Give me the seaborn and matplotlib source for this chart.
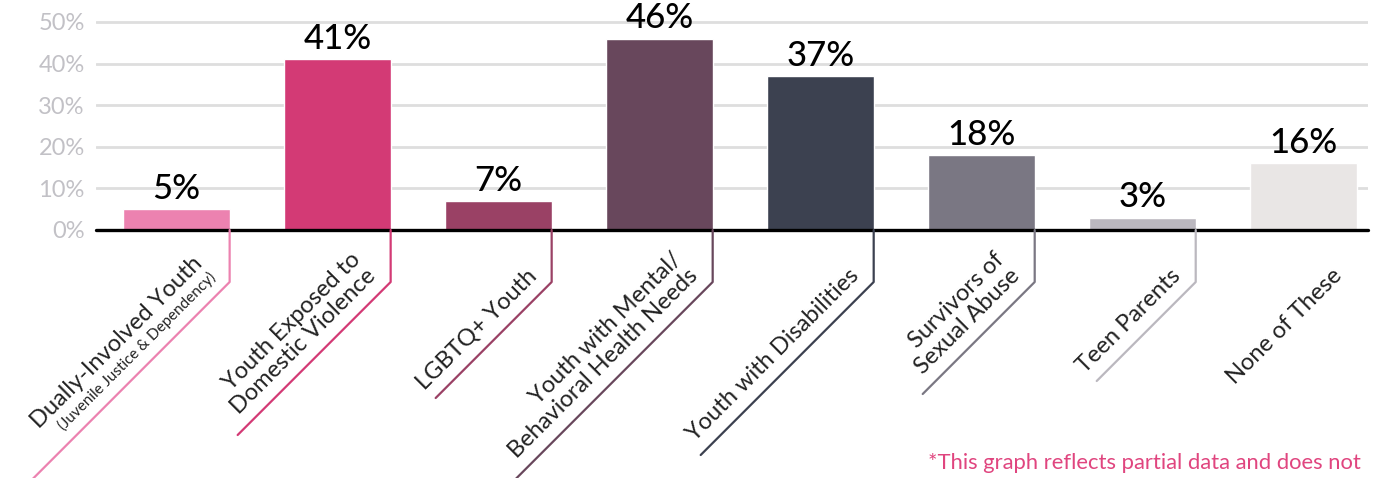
import numpy as np
import pandas as pd
import matplotlib
matplotlib.use('Agg')
import matplotlib.pyplot as plt
import seaborn as sns
from matplotlib.lines import Line2D

# chart data
categories = ['Dually-Involved Youth', 'Youth Exposed to Domestic Violence', 'LGBTQ+ Youth',
              'Youth with Mental/Behavioral Health Needs', 'Youth with Disabilities',
              'Survivors of Sexual Abuse', 'Teen Parents', 'None of These']
label_text = ['Dually-Involved Youth', 'Youth Exposed to\nDomestic Violence', 'LGBTQ+ Youth',
              'Youth with Mental/\nBehavioral Health Needs', 'Youth with Disabilities',
              'Survivors of\nSexual Abuse', 'Teen Parents', 'None of These']
sub_label = '(Juvenile Justice & Dependency)'
values = [5, 41, 7, 46, 37, 18, 3, 16]
yticks = [0, 10, 20, 30, 40, 50]
colors = ['#EC82B0', '#D33A75', '#9A4165', '#68475C', '#3C4150', '#7A7783', '#BBB8BF', '#E9E6E5']
footnote = '*This graph reflects partial data and does not'

# leader line lengths in pixels (diagonal part)
diag_len = [210, 153, 116, 199, 173, 112, 99, 0]

data = pd.DataFrame({'category': categories, 'value': values})

sns.set_style('white')
plt.rcParams['font.family'] = ['Lato', 'DejaVu Sans']

W, H = 1387, 478
fig = plt.figure(figsize=(W / 100, H / 100), dpi=100)
ax = fig.add_axes([96 / W, (H - 230) / H, (1368 - 96) / W, (230 - 19.9) / H])

sns.barplot(data=data, x='category', y='value', hue='category', palette=colors,
            legend=False, width=0.66, ax=ax, saturation=1, zorder=2)

ax.set_xlim(-0.5, 7.4)
ax.set_ylim(0, 50.5)
ax.set_yticks(yticks)
ax.set_yticklabels([f'{t}%' for t in yticks], fontsize=17, color='#C2C1C6')
ax.tick_params(axis='y', length=0, pad=8)
ax.set_xticks([])
ax.set_xlabel('')
ax.set_ylabel('')
ax.grid(axis='y', color='#DEDEDE', linewidth=2, zorder=0)
ax.set_axisbelow(True)
for s in ax.spines.values():
    s.set_visible(False)
ax.axhline(0, color='black', linewidth=2.4, zorder=3, clip_on=False)

# value labels
for i, v in enumerate(values):
    ax.annotate(f'{v}%', (i, v), xytext=(0, 3), textcoords='offset points',
                ha='center', va='bottom', fontsize=25, fontweight='medium',
                color='black', clip_on=False)

# leader lines and rotated category labels, built in pixel space
fig.canvas.draw()
to_fig = fig.transFigure.inverted()
s2 = np.sqrt(2)
for i, lab in enumerate(label_text):
    xr, y0 = ax.transData.transform((i + 0.33, 0))
    yc = y0 - 52
    L = diag_len[i]
    if L > 0:
        pts = np.array([[xr, y0], [xr, yc], [xr - L, yc - L]])
        pts = to_fig.transform(pts)
        fig.add_artist(Line2D(pts[:, 0], pts[:, 1], color=colors[i], linewidth=1.6,
                              transform=fig.transFigure, clip_on=False))
    a, p = 6, 9
    ax_pt = np.array([xr - (a + p) / s2, yc - (a - p) / s2])
    if i == 0:
        sp = to_fig.transform(ax_pt)
        fig.text(sp[0], sp[1], sub_label, rotation=45, rotation_mode='anchor',
                 ha='right', va='bottom', fontsize=11, color='#222222')
        ax_pt = ax_pt + np.array([-18, 18]) / s2
    tp = to_fig.transform(ax_pt)
    fig.text(tp[0], tp[1], lab, rotation=45, rotation_mode='anchor', ha='right',
             va='bottom', fontsize=17, color='#222222', linespacing=1.1)

fig.text(928 / W, (H - 469) / H, footnote, fontsize=15.8, color='#E0457F',
         ha='left', va='baseline')

plt.savefig('out.png', dpi=100)
